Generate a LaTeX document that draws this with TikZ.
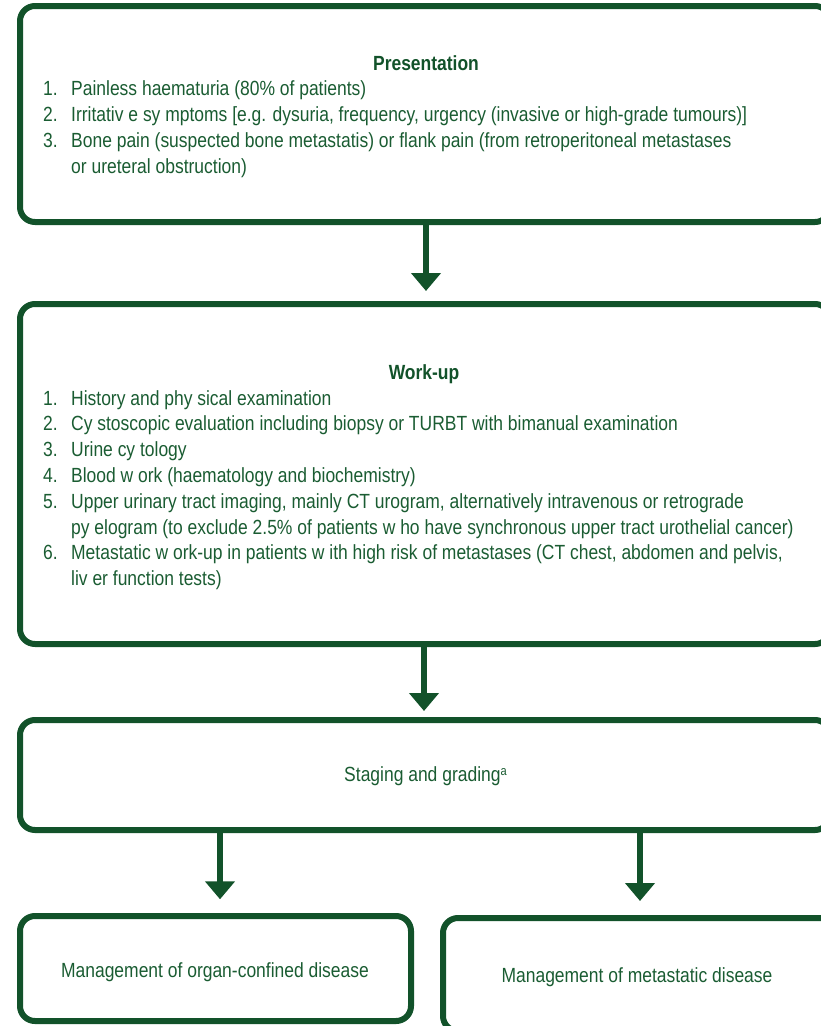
\documentclass[tikz,border=0pt]{standalone}
\usepackage{fontspec}
\setmainfont{Liberation Sans}[FakeStretch=0.852]
\usetikzlibrary{arrows.meta}
\definecolor{boxgreen}{RGB}{18,82,42}
\definecolor{txtgreen}{RGB}{26,92,50}

\begin{document}
\begin{tikzpicture}[x=1pt,y=-1pt,
  box/.style={draw=boxgreen, line width=6pt, rounded corners=15pt,
    inner sep=0pt, outer sep=0pt},
  flow/.style={draw=boxgreen, line width=6pt,
    -{Triangle[width=29pt,length=18pt]}},
  txt/.style={inner sep=0pt, text=txtgreen,
    font=\fontsize{20.5}{25.8}\selectfont},
  head/.style={txt, font=\fontsize{20.5}{25.8}\selectfont\bfseries, text=boxgreen},
]
\useasboundingbox (0,0) rectangle (821,1026);
\clip (0,0) rectangle (821,1026);

% boxes
\node[box, minimum width=810pt, minimum height=216pt] (pres) at (425,114) {};
\node[box, minimum width=810pt, minimum height=340pt] (work) at (425,474) {};
\node[box, minimum width=810pt, minimum height=110pt] (stage) at (425,775) {};
\node[box, minimum width=391pt, minimum height=105pt] (organ) at (215.5,968.5) {};
\node[box, minimum width=394pt, minimum height=113pt] (meta) at (640,974.5) {};

% presentation
\node[head, anchor=base] (presT) at (426,70) {Presentation};
\node[txt, anchor=base west] (presL) at (43,95.7) {%
  \begin{tabular}[t]{@{}p{28pt}@{}l@{}}
  1. & Painless haematuria (80\% of patients)\\
  2. & Irritativ e sy mptoms [e.g. dysuria, frequency, urgency (invasive or high-grade tumours)]\\
  3. & Bone pain (suspected bone metastatis) or flank pain (from retroperitoneal metastases\\
     & or ureteral obstruction)
  \end{tabular}};

% work-up
\node[head, anchor=base] (workT) at (424,379) {Work-up};
\node[txt, anchor=base west] (workL) at (43,405) {%
  \begin{tabular}[t]{@{}p{28pt}@{}l@{}}
  1. & History and phy sical examination\\
  2. & Cy stoscopic evaluation including biopsy or TURBT with bimanual examination\\
  3. & Urine cy tology\\
  4. & Blood w ork (haematology and biochemistry)\\
  5. & Upper urinary tract imaging, mainly CT urogram, alternatively intravenous or retrograde\\
     & py elogram (to exclude 2.5\% of patients w ho have synchronous upper tract urothelial cancer)\\
  6. & Metastatic w ork-up in patients w ith high risk of metastases (CT chest, abdomen and pelvis,\\
     & liv er function tests)
  \end{tabular}};

% staging and outcomes
\node[txt, anchor=base] (stageT) at (425.5,781)
  {Staging and grading\raisebox{5.5pt}{\fontsize{13}{13}\selectfont a}};
\node[txt, anchor=base] (organT) at (215,977) {Management of organ-confined disease};
\node[txt, anchor=base] (metaT) at (637,982) {Management of metastatic disease};

% connectors
\draw[flow, shorten >=13pt] ([xshift=1pt]pres.south) -- ([xshift=1pt]work.north);
\draw[flow, shorten >=9pt] ([xshift=-1pt]work.south) -- ([xshift=-1pt]stage.north);
\draw[flow, shorten >=16.7pt] ([xshift=4.5pt]organ.north |- stage.south) -- ([xshift=4.5pt]organ.north);
\draw[flow, shorten >=17pt] (meta.north |- stage.south) -- (meta.north);
\end{tikzpicture}
\end{document}
